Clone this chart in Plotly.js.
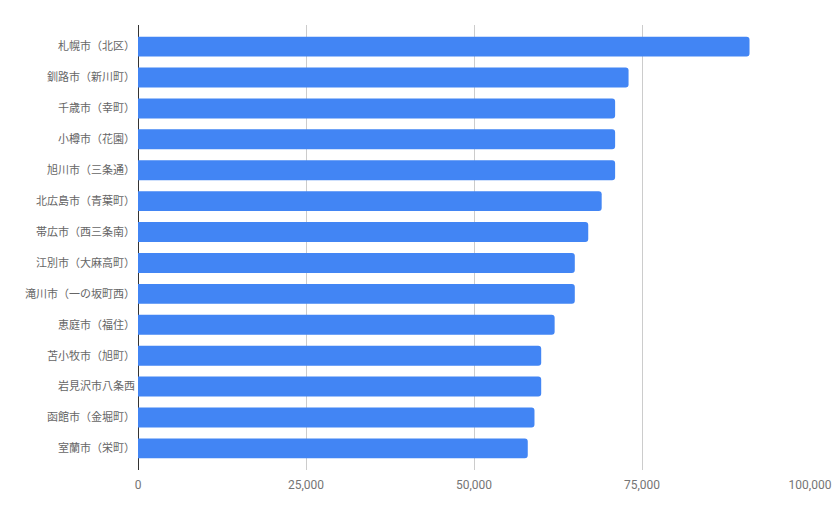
<!DOCTYPE html>
<html><head><meta charset="utf-8">
<script src="https://cdn.plot.ly/plotly-3.0.1.min.js"></script>
<style>html,body{margin:0;padding:0;background:#fff}#c{width:836px;height:517px}</style>
</head><body><div id="c"></div>
<script>
const categories = ["札幌市（北区）","釧路市（新川町）","千歳市（幸町）","小樽市（花園）","旭川市（三条通）","北広島市（青葉町）","帯広市（西三条南）","江別市（大麻高町）","滝川市（一の坂町西）","恵庭市（福住）","苫小牧市（旭町）","岩見沢市八条西","函館市（金堀町）","室蘭市（栄町）"];
const values = [91000,73000,71000,71000,71000,69000,67000,65000,65000,62000,60000,60000,59000,58000];
const xTickVals = [0,25000,50000,75000,100000];
const xTickText = ["0","25,000","50,000","75,000","100,000"];

Plotly.newPlot("c",[{
  type:"bar", orientation:"h",
  x: values, y: categories,
  marker:{color:"#4285f4", cornerradius:3},
  hoverinfo:"x+y"
}],{
  width:836, height:517,
  margin:{l:138, r:26, t:25, b:47},
  paper_bgcolor:"#fff", plot_bgcolor:"#fff",
  bargap:0.355,
  showlegend:false,
  font:{family:"Roboto, 'Noto Sans CJK JP', sans-serif", color:"#666", size:12},
  xaxis:{
    range:[0,100000], tickvals:xTickVals, ticktext:xTickText,
    showgrid:true, gridcolor:"#cccccc", gridwidth:1,
    zeroline:true, zerolinecolor:"#333333", zerolinewidth:1,
    showline:false, ticks:"", tickfont:{size:12, color:"#757575", family:"Roboto"},
    ticklabelstandoff:6, fixedrange:true
  },
  yaxis:{
    type:"category", range:[13.7,-0.7], autorange:false,
    showgrid:false, zeroline:false, showline:false, ticks:"",
    tickfont:{size:11, color:"#666", family:"'Noto Sans CJK JP', sans-serif"},
    ticklabelstandoff:2, fixedrange:true
  }
},{displayModeBar:false, staticPlot:true});
</script></body></html>
